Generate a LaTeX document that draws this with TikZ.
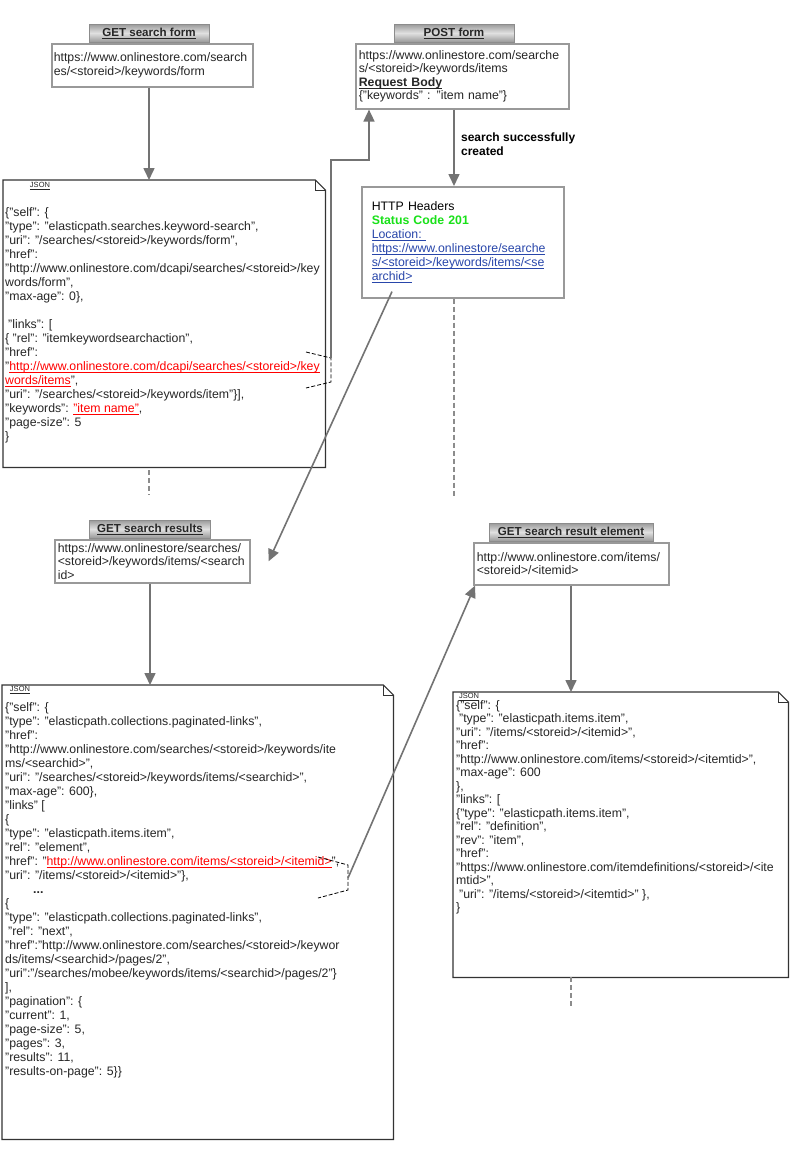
\documentclass[tikz,border=0pt]{standalone}
\usepackage{fontspec}
\setmainfont{Liberation Sans}
\usetikzlibrary{arrows.meta,positioning}

\definecolor{okgreen}{RGB}{25,225,25}
\definecolor{linkblue}{RGB}{40,70,170}
\newcommand\uln[1]{\leavevmode\setbox0=\hbox{#1}\rlap{\vrule width\wd0 height -1.5pt depth 2.3pt}\box0}
\newcommand\lnk[1]{\textcolor{red}{\uln{#1}}}
\newcommand\blnk[1]{\textcolor{linkblue}{\uln{#1}}}

\tikzset{
  x=1pt, y=-1pt,
  tab/.style={draw=black!45, line width=1pt, top color=black!40, bottom color=black!40, middle color=black!12,
              inner sep=0pt, minimum height=18pt, font=\fontsize{11.6}{13}\selectfont\bfseries, text=black!85},
  urlbox/.style={draw=black!40, line width=1.6pt, anchor=north west, align=left, inner xsep=3pt, inner ysep=0pt,
                 font=\fontsize{12.3}{13.5}\selectfont, text=black!85},
  jsonbox/.style={anchor=north west, inner sep=0pt},
  jsontext/.style={anchor=north west, align=left, inner sep=0pt, font=\fontsize{12.3}{14}\selectfont, text=black!85},
  jsonlabel/.style={inner sep=0pt, font=\fontsize{7.5}{8}\selectfont, text=black!85},
  call/.style={draw=black!55, line width=1.6pt, -{Triangle[width=11pt,length=12pt]}},
  lifeline/.style={draw=black!45, line width=1.5pt, dash pattern=on 5pt off 3pt},
  linkmark/.style={draw=black, line width=0.8pt, dash pattern=on 4pt off 2pt},
}

\begin{document}
\begin{tikzpicture}
\fill[white] (0,0) rectangle (807,1160);
\useasboundingbox (0,0) rectangle (807,1160);

\node[tab, minimum width=120pt] (tab1) at (149,33) {\uln{GET search form}};
\node[urlbox, inner xsep=2pt, text width=197pt, minimum height=43pt] (form) at (51,43)
  {https://www.onlinestore.com/search\\es/<storeid>/keywords/form};

\node[tab, minimum width=120pt] (tab2) at (454,33) {\uln{POST form}};
\node[urlbox, text width=207pt, minimum height=65pt] (post) at (355,43)
  {https://www.onlinestore.com/searche\\s/<storeid>/keywords/items\\\uln{\textbf{Request Body}}\\\{"keywords" : "item name"\}};

\node[urlbox, inner xsep=10pt, text width=182pt, minimum height=111pt, font=\fontsize{12.3}{14}\selectfont, text=black] (headers) at (361,186)
  {HTTP Headers\\\textcolor{okgreen}{\textbf{Status Code 201}}\\\blnk{Location:\ }\\\blnk{https://www.onlinestore/searche}\\\blnk{s/<storeid>/keywords/items/<se}\\\blnk{archid>}};

\node[tab, minimum width=121pt] (tab3) at (150,529) {\uln{GET search results}};
\node[urlbox, text width=189pt, minimum height=43pt] (results) at (54,539)
  {https://www.onlinestore/searches/\\<storeid>/keywords/items/<search\\id>};

\node[tab, minimum width=164pt] (tab4) at (571,532) {\uln{GET search result element}};
\node[urlbox, text width=189pt, minimum height=42pt] (element) at (473,542)
  {http://www.onlinestore.com/items/\\<storeid>/<itemid>};

\node[jsonbox, minimum width=322pt, minimum height=287pt] (json1) at (3,180) {};
\node[jsonbox, minimum width=391pt, minimum height=454pt] (json2) at (2,685) {};
\node[jsonbox, minimum width=335pt, minimum height=285pt] (json3) at (453,692) {};
\foreach \b in {json1,json2,json3} {
  \draw[black!80, line width=1.2pt] (\b.north west) -- ([xshift=-10pt]\b.north east) -- ([yshift=-10pt]\b.north east)
    -- (\b.south east) -- (\b.south west) -- cycle;
  \draw[black!80, line width=0.8pt] ([xshift=-10pt]\b.north east) -- ([xshift=-10pt,yshift=-10pt]\b.north east)
    -- ([yshift=-10pt]\b.north east);
}

\node[jsonlabel] (json1 tag) at (40,186) {\uln{JSON}};
\node[jsonlabel] (json2 tag) at (20,690) {\uln{JSON}};
\node[jsonlabel] (json3 tag) at (469,697) {\uln{JSON}};

\node[jsontext] (json1 body) at (5,207) {%
\{"self": \{\\
"type": "elasticpath.searches.keyword-search",\\
"uri": "/searches/<storeid>/keywords/form",\\
"href":\\
"http://www.onlinestore.com/dcapi/searches/<storeid>/key\\
words/form",\\
"max-age": 0\},\\[14pt]
\hspace*{3pt}"links": [\\
\{ "rel": "itemkeywordsearchaction",\\
"href":\\
"\lnk{http://www.onlinestore.com/dcapi/searches/<storeid>/key}\\
\lnk{words/items}",\\
"uri": "/searches/<storeid>/keywords/item"\}],\\
"keywords": \lnk{"item name"},\\
"page-size": 5\\
\}};

\node[jsontext] (json2 body) at (5,702) {%
\{"self": \{\\
"type": "elasticpath.collections.paginated-links",\\
"href":\\
"http://www.onlinestore.com/searches/<storeid>/keywords/ite\\
ms/<searchid>",\\
"uri": "/searches/<storeid>/keywords/items/<searchid>",\\
"max-age": 600\},\\
"links" [\\
\{\\
"type": "elasticpath.items.item",\\
"rel": "element",\\
"href": "\lnk{http://www.onlinestore.com/items/<storeid>/<itemid>}",\\
"uri": "/items/<storeid>/<itemid>"\},\\
\hspace*{28pt}\textbf{...}\\
\{\\
"type": "elasticpath.collections.paginated-links",\\
\hspace*{3pt}"rel": "next",\\
"href":"http://www.onlinestore.com/searches/<storeid>/keywor\\
ds/items/<searchid>/pages/2",\\
"uri":"/searches/mobee/keywords/items/<searchid>/pages/2"\}\\
],\\
"pagination": \{\\
"current": 1,\\
"page-size": 5,\\
"pages": 3,\\
"results": 11,\\
"results-on-page": 5\}\}};

\node[jsontext, font=\fontsize{12.3}{13.5}\selectfont] (json3 body) at (456,700) {%
\{"self": \{\\
\hspace*{3pt}"type": "elasticpath.items.item",\\
"uri": "/items/<storeid>/<itemid>",\\
"href":\\
"http://www.onlinestore.com/items/<storeid>/<itemtid>",\\
"max-age": 600\\
\},\\
"links": [\\
\{"type": "elasticpath.items.item",\\
"rel": "definition",\\
"rev": "item",\\
"href":\\
"https://www.onlinestore.com/itemdefinitions/<storeid>/<ite\\
mtid>",\\
\hspace*{3pt}"uri": "/items/<storeid>/<itemtid>" \},\\
\}};

\draw[call] (tab1 |- form.south) -- (tab1 |- json1.north);
\draw[call] (tab2 |- post.south) -- node[right=3pt, yshift=4pt, align=left, font=\fontsize{12}{14}\selectfont\bfseries] (created)
  {search successfully\\created} (tab2 |- headers.north);

\coordinate (json1 link) at (331,358);
\draw[linkmark] (306,352) -- (json1 link) -- (331,382) -- (306,388);
\draw[call] (json1 link) -- (json1 link |- 0,160) -| ([xshift=14pt]post.south west);

\draw[call] ([xshift=31pt,yshift=7pt]headers.south west) -- ([xshift=18pt]results.east);
\draw[call] (tab3 |- results.south) -- (tab3 |- json2.north);

\coordinate (json2 link) at (348,878);
\draw[linkmark] (318,857) -- (348,865) -- (348,890) -- (318,898);
\draw[call] (json2 link) -- ([xshift=2pt]element.south west);
\draw[call] (tab4 |- element.south) -- (tab4 |- json3.north);

\draw[lifeline] (tab1 |- json1.south) ++(0,3) -- ++(0,25);
\draw[lifeline] (tab2 |- headers.south) -- ++(0,198);
\draw[lifeline] (tab4 |- json3.south) -- ++(0,31);
\end{tikzpicture}
\end{document}
